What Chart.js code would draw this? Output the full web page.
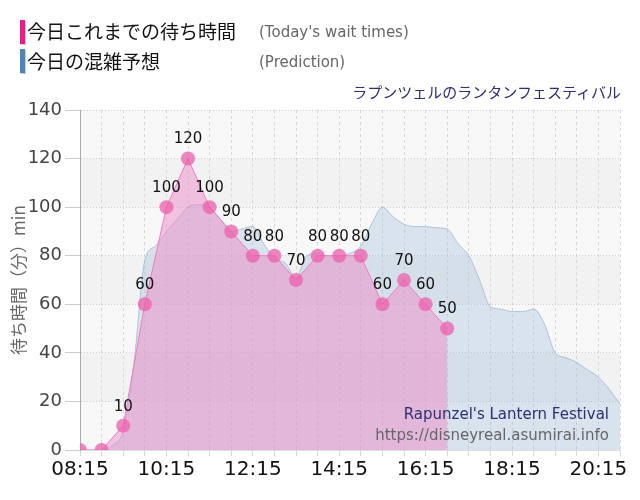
<!DOCTYPE html>
<html>
<head>
<meta charset="utf-8">
<script src="https://cdn.jsdelivr.net/npm/chart.js"></script>
<style>
  body { margin: 0; background: #fff; }
  #wrap { position: relative; width: 640px; height: 500px; }
  #chart { position: absolute; left: 0; top: 0; }
  .bar { position: absolute; left: 20px; width: 5px; height: 24px; box-shadow: 1px 1px 1px #ccc; }
  .jp { position: absolute; left: 27px; height: 24px; line-height: 24px; font: 19px "Noto Sans CJK JP"; color: #111; white-space: nowrap; }
  .en { position: absolute; left: 259px; height: 24px; line-height: 24px; font: 15px "DejaVu Sans"; color: #666; white-space: nowrap; }
  .note { position: absolute; height: 20px; line-height: 20px; white-space: nowrap; text-align: right; }
</style>
</head>
<body>
<div id="wrap">
  <canvas id="chart" width="640" height="500"></canvas>
  <div class="bar" style="top:20px;background:#f0198c"></div>
  <div class="jp" style="top:17px">今日これまでの待ち時間</div>
  <div class="en" style="top:23px">(Today's wait times)</div>
  <div class="bar" style="top:49px;background:#4b86b8"></div>
  <div class="jp" style="top:47px">今日の混雑予想</div>
  <div class="en" style="top:53px">(Prediction)</div>
  <div class="note" style="right:19px;top:81px;font:15px 'Noto Sans CJK JP';color:#2e2e70">ラプンツェルのランタンフェスティバル</div>
  <div class="note" style="right:31px;top:405px;font:15px 'DejaVu Sans';color:#2e2e70">Rapunzel's Lantern Festival</div>
  <div class="note" style="right:31px;top:426px;font:15px 'DejaVu Sans';color:#666">https://disneyreal.asumirai.info</div>
</div>
<script>
// today's wait times (every 30 min)
const waitTimes = ["08:15", "08:45", "09:15", "09:45", "10:15", "10:45", "11:15", "11:45", "12:15",
  "12:45", "13:15", "13:45", "14:15", "14:45", "15:15", "15:45", "16:15", "16:45"];
const waitValues = [0, 0, 10, 60, 100, 120, 100, 90, 80, 80, 70, 80, 80, 80, 60, 70, 60, 50];

// prediction (every 15 min)
const predTimes = ["08:15", "08:30", "08:45", "09:00", "09:15", "09:30", "09:45", "10:00", "10:15", "10:30",
  "10:45", "11:00", "11:15", "11:30", "11:45", "12:00", "12:15", "12:30", "12:45", "13:00",
  "13:15", "13:30", "13:45", "14:00", "14:15", "14:30", "14:45", "15:00", "15:15", "15:30",
  "15:45", "16:00", "16:15", "16:30", "16:45", "17:00", "17:15", "17:30", "17:45", "18:00",
  "18:15", "18:30", "18:45", "19:00", "19:15", "19:30", "19:45", "20:00", "20:15", "20:30", "20:45"];
const predValues = [0, 0, 0, 2, 8, 36, 78, 84, 90, 95,
  100, 101, 100, 95, 90, 91, 92, 85, 79, 77,
  71, 80, 81, 80, 80, 81, 84, 93, 100, 96,
  93, 92, 92, 91.5, 91, 85, 80, 70, 59, 58,
  57, 57, 58, 52, 40, 38, 36, 33, 30, 25, 19];

const yTicks = [0, 20, 40, 60, 80, 100, 120, 140];

// minutes counted from 08:15
const START = 8 * 60 + 15;
function toMin(s) {
  const p = s.split(":");
  return parseInt(p[0]) * 60 + parseInt(p[1]) - START;
}
function fmt(m) {
  const t = START + m;
  const h = Math.floor(t / 60), mm = t % 60;
  return String(h).padStart(2, "0") + ":" + String(mm).padStart(2, "0");
}

// striped plot background
const bands = {
  id: "bands",
  beforeDraw(chart) {
    const { ctx, chartArea: a, scales: { y } } = chart;
    ctx.save();
    for (let i = 0; i < yTicks.length - 1; i++) {
      const top = y.getPixelForValue(yTicks[i + 1]);
      const bot = y.getPixelForValue(yTicks[i]);
      ctx.fillStyle = i % 2 === 0 ? "#f8f8f8" : "#f2f2f2";
      ctx.fillRect(a.left, top, a.right - a.left, bot - top);
    }
    ctx.restore();
  }
};

// value labels above the wait time points
const valueLabels = {
  id: "valueLabels",
  afterDatasetsDraw(chart) {
    const ctx = chart.ctx;
    const meta = chart.getDatasetMeta(0);
    ctx.save();
    ctx.font = '15px "DejaVu Sans"';
    ctx.fillStyle = "#111";
    ctx.textAlign = "center";
    ctx.textBaseline = "middle";
    meta.data.forEach((pt, i) => {
      if (waitValues[i] === 0) return;
      ctx.fillText(waitValues[i], pt.x, pt.y - 19);
    });
    ctx.restore();
  }
};

new Chart(document.getElementById("chart"), {
  type: "line",
  data: {
    datasets: [
      {
        label: "今日これまでの待ち時間",
        data: waitTimes.map((t, i) => ({ x: toMin(t), y: waitValues[i] })),
        borderColor: "#f27cbd",
        borderWidth: 1,
        backgroundColor: "rgba(238,140,200,0.5)",
        fill: "origin",
        tension: 0,
        pointRadius: 7,
        pointBorderWidth: 0,
        pointBackgroundColor: "rgba(236,95,172,0.75)"
      },
      {
        label: "今日の混雑予想",
        data: predTimes.map((t, i) => ({ x: toMin(t), y: predValues[i] })),
        borderColor: "rgba(150,178,205,0.7)",
        borderWidth: 1,
        backgroundColor: "rgba(150,185,215,0.32)",
        fill: "origin",
        cubicInterpolationMode: "monotone",
        pointRadius: 0
      }
    ]
  },
  options: {
    responsive: false,
    animation: false,
    events: [],
    layout: { padding: { left: 0, right: 20, top: 110, bottom: 0 } },
    plugins: { legend: { display: false }, tooltip: { enabled: false } },
    scales: {
      x: {
        type: "linear",
        min: 0,
        max: 750,
        afterFit(s) { s.height = 50; },
        ticks: {
          stepSize: 30,
          autoSkip: false,
          maxRotation: 0,
          padding: 2,
          color: "#111",
          font: { family: "DejaVu Sans", size: 20 },
          callback: v => (v % 120 === 0 ? fmt(v) : "")
        },
        grid: { color: "#d8d8d8", tickLength: 6 },
        border: { color: "#dddddd", dash: [3, 3] }
      },
      y: {
        min: 0,
        max: 140,
        afterFit(s) { s.width = 80; },
        ticks: {
          stepSize: 20,
          padding: 3,
          color: "#444",
          font: { family: "DejaVu Sans", size: 18 }
        },
        grid: { color: "#cccccc", tickLength: 15 },
        border: { color: "#aaaaaa", dash: [1, 2] },
        title: {
          display: true,
          text: "待ち時間（分）min",
          color: "#666",
          font: { family: "Noto Sans CJK JP", size: 17 },
          padding: { top: 8 }
        }
      }
    }
  },
  plugins: [bands, valueLabels]
});
</script>
</body>
</html>
